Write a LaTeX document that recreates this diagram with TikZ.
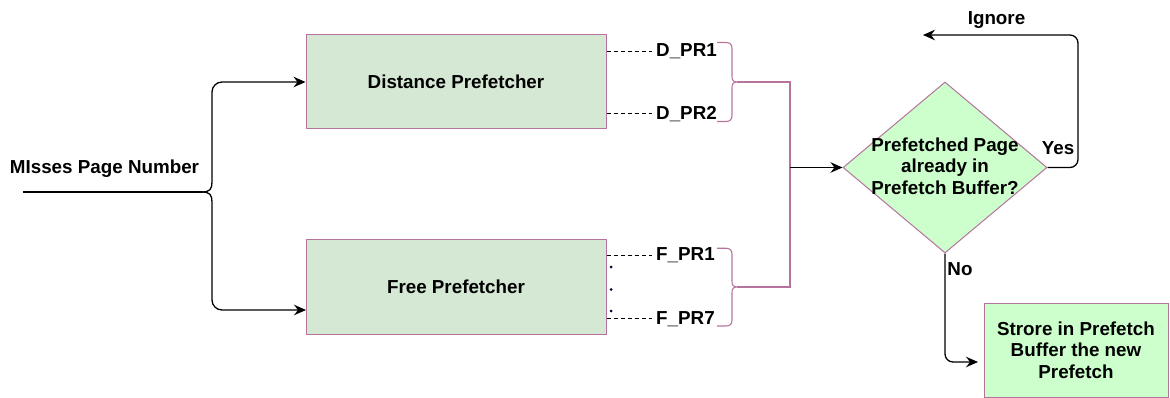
\documentclass[tikz,border=0pt]{standalone}
\usepackage{fontspec}
\setmainfont{Liberation Sans}
\usetikzlibrary{arrows.meta,shapes.geometric}
\definecolor{boxgreen}{HTML}{D5E8D4}
\definecolor{palegreen}{HTML}{CCFFCC}
\definecolor{mauve}{HTML}{B5739D}
% curly bracket opening to the right: top y, tip y, bottom y
\newcommand{\bracketpath}[3]{%
  (717,#1) -- (726,#1) .. controls (730,#1) and (732,#1+2) .. (732,#1+6)
  -- (732,#2-6) .. controls (732,#2-2) and (733,#2) .. (737,#2)
  .. controls (733,#2) and (732,#2+2) .. (732,#2+6)
  -- (732,#3-6) .. controls (732,#3-2) and (730,#3) .. (726,#3) -- (717,#3)}
\begin{document}
\begin{tikzpicture}[x=1pt,y=-1pt,
  font=\fontsize{18.8}{21.7}\selectfont\bfseries,
  conn/.style={line width=1.3pt, draw=black},
  arrowed/.style={-{Stealth[length=12pt,width=10.5pt,inset=4pt]}},
  procbox/.style={draw=mauve, fill=boxgreen, line width=1pt,
    minimum width=300pt, minimum height=94pt, inner sep=0pt},
  resultbox/.style={draw=mauve, fill=palegreen, line width=1pt,
    minimum width=184pt, minimum height=94pt, inner sep=0pt, align=center},
  decision/.style={diamond, draw=mauve, fill=palegreen, line width=1pt,
    minimum width=204pt, minimum height=171pt, inner sep=0pt},
  tag/.style={inner sep=0pt},
  prtag/.style={inner ysep=0pt, inner xsep=4pt, anchor=base west},
  dashline/.style={line width=1.1pt, dash pattern=on 4pt off 3pt},
  bracket/.style={draw=mauve, line width=1.1pt},
  dotmark/.style={circle, fill=black!80!blue, inner sep=0pt, minimum size=3pt}
]
\useasboundingbox (0,0) rectangle (1170,398);

% prefetcher blocks
\node[procbox] (dist) at (456,82) {Distance Prefetcher};
\node[procbox] (free) at (456,287) {Free Prefetcher};

% input and its fork
\node[tag, anchor=base] (miss) at (104.5,173.3) {MIsses Page Number};
\coordinate (src) at (23,192);
\coordinate (fork) at (202,192);
\coordinate (freein) at (306,310);
\draw[conn] (src) -- (fork);
\draw[conn,arrowed] (fork) .. controls (210,192) and (212,189) .. (212,182)
  [rounded corners=10pt] |- (dist.west);
\draw[conn,arrowed] (fork) .. controls (210,192) and (212,195) .. (212,202)
  [rounded corners=10pt] |- (freein);

% prefetch request outputs
\node[prtag] (dpr1) at (652,56.7) {D\_PR1};
\node[prtag] (dpr2) at (652,119.3) {D\_PR2};
\node[prtag] (fpr1) at (652,261) {F\_PR1};
\node[prtag] (fpr7) at (652,324) {F\_PR7};
\draw[dashline] (dist.east |- dpr1.west) -- (dpr1.west);
\draw[dashline] (dist.east |- dpr2.west) -- (dpr2.west);
\draw[dashline] (free.east |- fpr1.west) -- (fpr1.west);
\draw[dashline] (free.east |- fpr7.west) -- (fpr7.west);
\node[dotmark] (dot1) at (611,267) {};
\node[dotmark] (dot2) at (611,289.5) {};
\node[dotmark] (dot3) at (611,311) {};

% brackets gathering the requests
\draw[bracket] \bracketpath{42.5}{82}{121.5};
\draw[bracket] \bracketpath{248.3}{287}{326};
\coordinate (dtip) at (737,82);
\coordinate (ftip) at (737,287);
\coordinate (join) at (790,167.5);
\draw[bracket] (dtip) -| (join) |- (ftip);

% decision
\node[decision] (dia) at (945,167.5) {};
\node[tag, align=center] (question) at (945,166) {Prefetched Page\\already in\\Prefetch Buffer?};
\draw[conn,arrowed] (join) -- (dia.west);

% yes branch
\coordinate (ignoreend) at (923,35);
\draw[conn,arrowed,rounded corners=8pt] (dia.east) -- (1078,167.5) -- (1078,35) -- (ignoreend);
\node[tag, anchor=base] (ignore) at (996.5,25) {Ignore};
\node[tag, anchor=base] (yes) at (1058,155) {Yes};

% no branch
\node[resultbox] (store) at (1076,350) {Strore in Prefetch\\Buffer the new\\Prefetch};
\coordinate (noend) at (978,362);
\draw[conn,arrowed,rounded corners=8pt] (dia.south) -- (945,362) -- (noend);
\node[tag, anchor=base] (no) at (960,275) {No};
\end{tikzpicture}
\end{document}
